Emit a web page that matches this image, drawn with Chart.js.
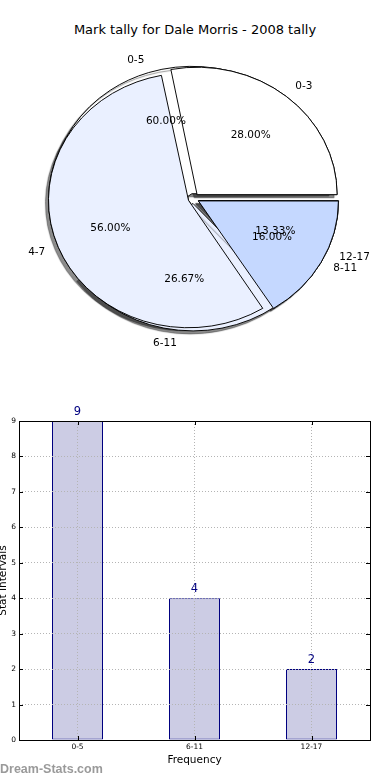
<!DOCTYPE html>
<html>
<head>
<meta charset="utf-8">
<script src="https://cdn.jsdelivr.net/npm/chart.js@4.4.0/dist/chart.umd.min.js"></script>
<style>
  body { margin:0; background:#fff; width:390px; height:780px; position:relative; overflow:hidden; font-family:"DejaVu Sans", sans-serif; }
  #title { position:absolute; left:0; top:21px; width:390px; text-align:center; font-size:13px; line-height:18px; color:#000; }
  .layer { position:absolute; left:0; top:0; width:390px; height:400px; }
  #barBox { position:absolute; left:0; top:400px; width:390px; height:380px; }
  #stamp { position:absolute; left:0; top:762px; font-family:"Liberation Sans", sans-serif; font-size:12.5px; font-weight:bold; color:#9a9a9a; }
</style>
</head>
<body>
<div id="title">Mark tally for Dale Morris - 2008 tally</div>
<div class="layer"><canvas id="pieShadow"></canvas></div>
<div class="layer"><canvas id="pieBack"></canvas></div>
<div class="layer"><canvas id="pieFront"></canvas></div>
<div id="barBox"><canvas id="bars"></canvas></div>
<div id="stamp">Dream-Stats.com</div>

<script>
// data
var backCats = ['0-5', '6-11', '12-17'];
var backVals = [9, 4, 2];
var frontCats = ['0-3', '4-7', '8-11'];
var frontVals = [7, 14, 4];
var barCats = ['0-5', '6-11', '12-17'];
var barVals = [9, 4, 2];
var yTicks = [0, 1, 2, 3, 4, 5, 6, 7, 8, 9];

var pieColors = ['#ffffff', '#eaf0ff', '#c5d8ff'];
var FONT = 'DejaVu Sans';

// pie geometry (matplotlib style: ellipse, starts at east, counter clockwise)
var CX = 193.6, CY = 198.5, SQUASH = 0.91, R = 140, EXPLODE = 5.5;

function pieData(cats, vals) {
    return {
        labels: cats.slice().reverse(),
        datasets: [{
            data: vals.slice().reverse(),
            backgroundColor: pieColors.slice().reverse(),
            borderColor: '#000',
            borderWidth: 1,
            offset: EXPLODE * 4,   // chart.js moves arcs by offset/4
            hoverOffset: 0
        }]
    };
}

function squash(shadow) {
    return {
        id: 'squash',
        beforeDatasetsDraw: function(chart) {
            // chart.js grows wide arcs by the offset, keep every wedge at R
            chart.getDatasetMeta(0).data.forEach(function(arc) {
                var circ = arc.endAngle - arc.startAngle;
                var fix = 1 - Math.sin(Math.min(Math.PI, circ));
                arc.outerRadius = R - EXPLODE * fix;
            });
            var ctx = chart.ctx;
            ctx.save();
            ctx.translate(0, CY);
            ctx.scale(1, SQUASH);
            ctx.translate(0, -CY);
            if (shadow) {
                ctx.shadowColor = 'rgba(0,0,0,0.45)';
                ctx.shadowOffsetX = -3;
                ctx.shadowOffsetY = 3;
                ctx.shadowBlur = 1;
            }
        },
        afterDatasetsDraw: function(chart) {
            chart.ctx.restore();
        }
    };
}

function pieOptions() {
    return {
        responsive: true,
        maintainAspectRatio: false,
        animation: false,
        events: [],
        rotation: 90,
        radius: R,
        layout: { padding: { left: 0, right: 390 - 2 * CX, top: 0, bottom: 400 - 2 * CY } },
        plugins: { legend: { display: false }, tooltip: { enabled: false } }
    };
}

function drawPieLabels(chart, ctx) {
    var meta = chart.getDatasetMeta(0);
    var ds = chart.data.datasets[0];
    var total = ds.data.reduce(function(a, b) { return a + b; }, 0);
    ctx.save();
    ctx.fillStyle = '#000';
    ctx.font = '10.5px "' + FONT + '"';
    ctx.textBaseline = 'middle';
    meta.data.forEach(function(arc, i) {
        var p = arc.getProps(['x', 'y', 'startAngle', 'endAngle'], true);
        var mid = (p.startAngle + p.endAngle) / 2;
        var c = Math.cos(mid), s = Math.sin(mid);
        var ox = p.x + c * EXPLODE, oy = p.y + s * EXPLODE;
        var at = function(d) {
            return [ox + c * d * R, CY + (oy + s * d * R - CY) * SQUASH];
        };
        var lab = at(1.1), pct = at(0.6);
        ctx.textAlign = c > 0 ? 'left' : 'right';
        ctx.fillText(chart.data.labels[i], lab[0], lab[1]);
        ctx.textAlign = 'center';
        ctx.fillText((ds.data[i] / total * 100).toFixed(2) + '%', pct[0], pct[1]);
    });
    ctx.restore();
}

// shadows sit under every wedge, so the front pie casts its shadow from the bottom layer
new Chart(document.getElementById('pieShadow'), {
    type: 'pie',
    data: pieData(frontCats, frontVals),
    options: pieOptions(),
    plugins: [squash(true)]
});

var backChart = new Chart(document.getElementById('pieBack'), {
    type: 'pie',
    data: pieData(backCats, backVals),
    options: pieOptions(),
    plugins: [squash(true)]
});

var frontChart = new Chart(document.getElementById('pieFront'), {
    type: 'pie',
    data: pieData(frontCats, frontVals),
    options: pieOptions(),
    plugins: [squash(false), {
        id: 'pieLabels',
        afterDraw: function(chart) {
            drawPieLabels(backChart, chart.ctx);
            drawPieLabels(chart, chart.ctx);
        }
    }]
});

// bar chart
var framePlugin = {
    id: 'frame',
    afterDraw: function(chart) {
        var a = chart.chartArea, ctx = chart.ctx;
        var xs = chart.scales.x, ys = chart.scales.y;
        ctx.save();
        ctx.strokeStyle = '#000';
        ctx.lineWidth = 1;
        ctx.beginPath();
        yTicks.forEach(function(v) {
            var y = Math.round(ys.getPixelForValue(v)) + 0.5;
            ctx.moveTo(a.left, y); ctx.lineTo(a.left + 4, y);
            ctx.moveTo(a.right, y); ctx.lineTo(a.right - 4, y);
        });
        barCats.forEach(function(c, i) {
            var x = Math.round(xs.getPixelForValue(i)) + 0.5;
            ctx.moveTo(x, a.bottom); ctx.lineTo(x, a.bottom - 4);
            ctx.moveTo(x, a.top); ctx.lineTo(x, a.top + 4);
        });
        ctx.stroke();
        ctx.strokeRect(Math.round(a.left) + 0.5, Math.round(a.top) + 0.5,
            Math.round(a.right - a.left), Math.round(a.bottom - a.top));
        ctx.restore();
    }
};

var valuePlugin = {
    id: 'values',
    afterDraw: function(chart) {
        var ctx = chart.ctx;
        var meta = chart.getDatasetMeta(0);
        ctx.save();
        ctx.fillStyle = '#000080';
        ctx.font = '11.5px "' + FONT + '"';
        ctx.textAlign = 'center';
        ctx.textBaseline = 'middle';
        meta.data.forEach(function(bar, i) {
            ctx.fillText(String(barVals[i]), bar.x, bar.y - 9);
        });
        ctx.restore();
    }
};

new Chart(document.getElementById('bars'), {
    type: 'bar',
    data: {
        labels: barCats,
        datasets: [{
            data: barVals,
            backgroundColor: '#cccce4',
            borderColor: '#000080',
            borderWidth: 1,
            borderSkipped: false,
            barPercentage: 51 / 117,
            categoryPercentage: 1
        }]
    },
    options: {
        responsive: true,
        maintainAspectRatio: false,
        animation: false,
        events: [],
        layout: { padding: { top: 21, right: 20, left: 0, bottom: 0 } },
        plugins: { legend: { display: false }, tooltip: { enabled: false } },
        scales: {
            x: {
                grid: { color: '#b4b4b4', offset: false, drawTicks: false, z: 1 },
                border: { display: false, dash: [1, 2] },
                ticks: { font: { family: FONT, size: 7.5 }, color: '#000', padding: 3 },
                title: { display: true, text: 'Frequency', color: '#000',
                    font: { family: FONT, size: 10.5 }, padding: { top: 0, bottom: 13.7 } },
                afterFit: function(s) { s.height = 40; }
            },
            y: {
                min: 0,
                max: 9,
                grid: { color: '#b4b4b4', drawTicks: false, z: 1 },
                border: { display: false, dash: [1, 2] },
                ticks: { stepSize: 1, font: { family: FONT, size: 7.5 }, color: '#000', padding: 3 },
                title: { display: true, text: 'Stat Intervals', color: '#000',
                    font: { family: FONT, size: 10.5 }, padding: { top: -3.3, bottom: 0 } },
                afterFit: function(s) { s.width = 19; }
            }
        }
    },
    plugins: [framePlugin, valuePlugin]
});
</script>
</body>
</html>
